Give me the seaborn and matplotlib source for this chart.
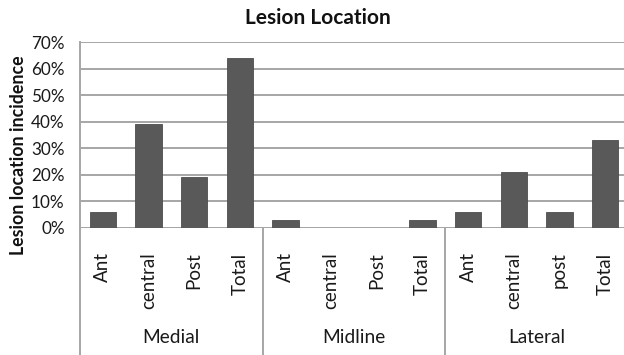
import matplotlib
matplotlib.use("Agg")
import matplotlib.pyplot as plt
import seaborn as sns
import pandas as pd
from matplotlib.ticker import PercentFormatter

# ---- data ----
groups = ["Medial", "Midline", "Lateral"]
medial_labels = ["Ant", "central", "Post", "Total"]
midline_labels = ["Ant", "central", "Post", "Total"]
lateral_labels = ["Ant", "central", "post", "Total"]
medial_values = [6, 39, 19, 64]
midline_values = [3, 0, 0, 3]
lateral_values = [6, 21, 6, 33]
y_ticks = [0, 10, 20, 30, 40, 50, 60, 70]

sub_labels = medial_labels + midline_labels + lateral_labels
values = medial_values + midline_values + lateral_values
group_col = [g for g, labs in zip(groups, [medial_labels, midline_labels, lateral_labels]) for _ in labs]
keys = [f"{g}|{l}" for g, l in zip(group_col, sub_labels)]
df = pd.DataFrame({"key": keys, "value": values, "group": group_col, "label": sub_labels})

sns.set_theme(style="white")
plt.rcParams["font.family"] = ["Lato", "DejaVu Sans"]

fig = plt.figure(figsize=(6.24, 3.55), dpi=100)
L, R = 80 / 624, 628 / 624
B, T = 1 - 227.5 / 355, 1 - 42.3 / 355
ax = fig.add_axes([L, B, R - L, T - B])

grid_c = "#a6a6a6"
txt_c = "#1a1a1a"
sns.barplot(data=df, x="key", y="value", order=keys, color="#595959",
            width=0.57, saturation=1, ax=ax, zorder=3, edgecolor="#4d4d4d", linewidth=0.6)

ax.set_ylim(0, 70)
ax.set_yticks(y_ticks)
ax.yaxis.set_major_formatter(PercentFormatter(decimals=0))
ax.set_xlim(-0.5, len(keys) - 0.5)
ax.yaxis.grid(True, color=grid_c, linewidth=1.4, zorder=0)
ax.set_axisbelow(True)
for s in ["top", "right", "bottom"]:
    ax.spines[s].set_visible(False)
ax.spines["left"].set_color(grid_c)
ax.spines["left"].set_linewidth(1.4)
ax.tick_params(axis="y", length=3, color=grid_c, width=1.2, labelsize=12.3, labelcolor=txt_c, pad=8)
ax.tick_params(axis="x", length=0, labelsize=13.5, labelcolor=txt_c, pad=18)
ax.set_xticks(range(len(keys)))
ax.set_xticklabels(sub_labels, rotation=90, va="top", ha="center")
ax.set_xlabel("")
ax.set_ylabel("")

# group separators and group labels
n_per = [len(medial_labels), len(midline_labels), len(lateral_labels)]
start = 0
bottom_y = -62.0  # data units, extends to figure bottom
for i, (g, n) in enumerate(zip(groups, n_per)):
    x0 = start - 0.5
    ax.plot([x0, x0], [0, bottom_y], color=grid_c, lw=1.4, clip_on=False, zorder=1)
    ax.text(start + (n - 1) / 2, -41.5, g, ha="center", va="center", fontsize=13.8, color=txt_c)
    start += n
ax.axhline(0, color=grid_c, lw=1.4, zorder=2)

fig.text(318 / 624, 1 - 18 / 355, "Lesion Location", ha="center", va="center",
         fontsize=15, fontweight="bold", color="#111111")
fig.text(19 / 624, 1 - 155 / 355, "Lesion location incidence", ha="center", va="center",
         rotation=90, fontsize=12.8, fontweight="bold", color="#111111")

fig.savefig("out.png", dpi=100)
